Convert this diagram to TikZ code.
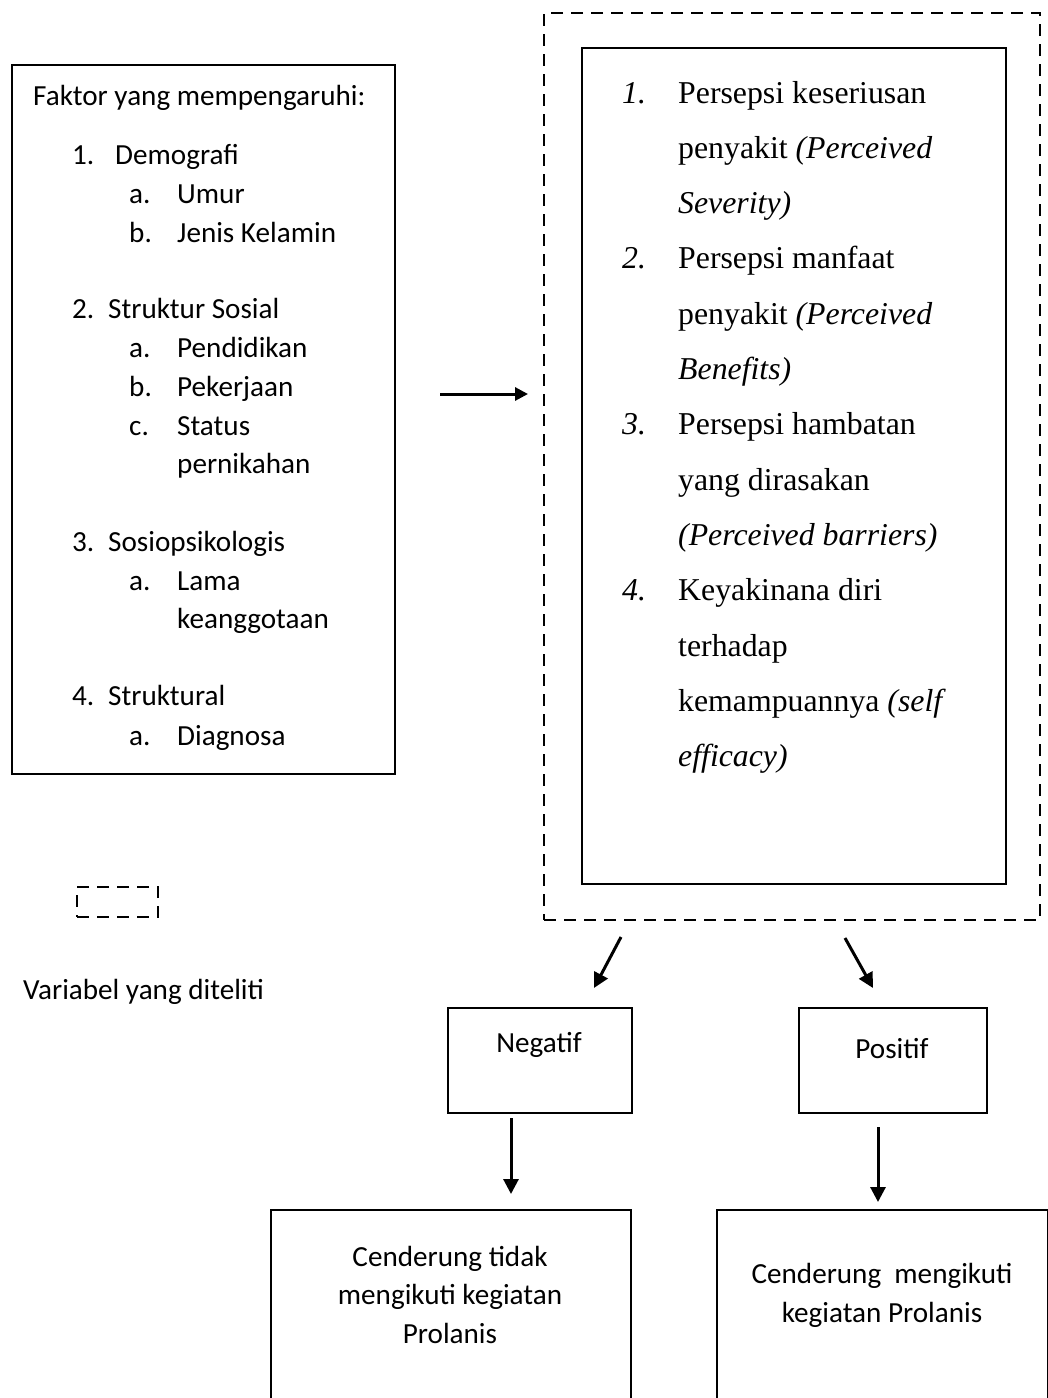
\documentclass[tikz,border=0pt]{standalone}
\usepackage{fontspec}
\setmainfont{Carlito}
\newfontfamily\tnr{Liberation Serif}
\usetikzlibrary{arrows.meta}
\tikzset{
  box/.style={draw, line width=2.2pt, rectangle, inner sep=0pt, anchor=north west},
  dbox/.style={box, line width=2pt, dash pattern=on 12pt off 8pt},
  arr/.style={line width=3pt, -{Triangle[length=15pt,width=15pt]}},
  harr/.style={line width=3pt, -{Triangle[length=13pt,width=13pt]}},
  ctxt/.style={font=\fontsize{29.15}{38.8}\selectfont, inner sep=0pt, anchor=base west},
  ctr/.style={ctxt, anchor=base},
  ttxt/.style={font=\tnr\fontsize{31.8}{55.3}\selectfont, inner sep=0pt, anchor=base west},
}
\begin{document}
\begin{tikzpicture}[x=1pt,y=-1pt]
\useasboundingbox (0,0) rectangle (1048,1398);

% ---------- left box ----------
\node[box, minimum width=383pt, minimum height=709pt] (lbox) at (11,64) {};
\node[ctxt] (lt0) at (33,105) {Faktor yang mempengaruhi:};
\node[ctxt] (ln1) at (72,164) {1.};
\node[ctxt] (lt1) at (115,164) {Demografi};
\node[ctxt] (la1) at (129,203) {a.};
\node[ctxt] (ls1) at (177,203) {Umur};
\node[ctxt] (lb1) at (129,242) {b.};
\node[ctxt] (ls2) at (177,242) {Jenis Kelamin};
\node[ctxt] (ln2) at (72,318) {2.};
\node[ctxt] (lt2) at (108,318) {Struktur Sosial};
\node[ctxt] (la2) at (129,357) {a.};
\node[ctxt] (ls3) at (177,357) {Pendidikan};
\node[ctxt] (lb2) at (129,396) {b.};
\node[ctxt] (ls4) at (177,396) {Pekerjaan};
\node[ctxt] (lc2) at (129,435) {c.};
\node[ctxt] (ls5) at (177,435) {Status};
\node[ctxt] (ls6) at (177,473) {pernikahan};
\node[ctxt] (ln3) at (72,551) {3.};
\node[ctxt] (lt3) at (108,551) {Sosiopsikologis};
\node[ctxt] (la3) at (129,590) {a.};
\node[ctxt] (ls7) at (177,590) {Lama};
\node[ctxt] (ls8) at (177,628) {keanggotaan};
\node[ctxt] (ln4) at (72,705) {4.};
\node[ctxt] (lt4) at (108,705) {Struktural};
\node[ctxt] (la4) at (129,745) {a.};
\node[ctxt] (ls9) at (177,745) {Diagnosa};

% ---------- legend ----------
\node[dbox, minimum width=81pt, minimum height=30pt] (leg) at (76,886) {};
\node[ctxt] (legt) at (23,999) {Variabel yang diteliti};

% ---------- dashed variable box ----------
\node[dbox, minimum width=496pt, minimum height=907pt] (vbox) at (543,12) {};
\node[box, minimum width=424pt, minimum height=836pt] (ibox) at (581,47) {};
\node[ttxt] (rn1) at (622,103) {\itshape 1.};
\node[ttxt] (r1) at (678,103) {Persepsi keseriusan};
\node[ttxt] (r2) at (678,158.3) {penyakit \textit{(Perceived}};
\node[ttxt] (r3) at (678,213.6) {\textit{Severity)}};
\node[ttxt] (rn2) at (622,268.9) {\itshape 2.};
\node[ttxt] (r4) at (678,268.9) {Persepsi manfaat};
\node[ttxt] (r5) at (678,324.2) {penyakit \textit{(Perceived}};
\node[ttxt] (r6) at (678,379.5) {\textit{Benefits)}};
\node[ttxt] (rn3) at (622,434.8) {\itshape 3.};
\node[ttxt] (r7) at (678,434.8) {Persepsi hambatan};
\node[ttxt] (r8) at (678,490.1) {yang dirasakan};
\node[ttxt] (r9) at (678,545.4) {\textit{(Perceived barriers)}};
\node[ttxt] (rn4) at (622,600.7) {\itshape 4.};
\node[ttxt] (r10) at (678,600.7) {Keyakinana diri};
\node[ttxt] (r11) at (678,656) {terhadap};
\node[ttxt] (r12) at (678,711.3) {kemampuannya \textit{(self}};
\node[ttxt] (r13) at (678,766.6) {\textit{efficacy)}};

% ---------- outcome boxes ----------
\node[box, minimum width=184pt, minimum height=105pt] (neg) at (447,1007) {};
\node[ctr] (negt) at (539,1052) {Negatif};
\node[box, minimum width=188pt, minimum height=105pt] (pos) at (798,1007) {};
\node[ctr] (post) at (892,1058) {Positif};

\node[box, minimum width=360pt, minimum height=230pt] (nres) at (270,1209) {};
\node[ctr] (nr1) at (450,1266) {Cenderung tidak};
\node[ctr] (nr2) at (450,1304) {mengikuti kegiatan};
\node[ctr] (nr3) at (450,1343) {Prolanis};

\node[box, minimum width=331pt, minimum height=230pt] (pres) at (716,1209) {};
\node[ctr] (pr1) at (882,1283) {Cenderung\ \ mengikuti};
\node[ctr] (pr2) at (882,1322) {kegiatan Prolanis};

% ---------- connectors ----------
\coordinate (a1s) at (440,394);  \coordinate (a1e) at (528,394);
\coordinate (a2s) at (621,937);  \coordinate (a2e) at (594,988);
\coordinate (a3s) at (845,938);  \coordinate (a3e) at (873,988);
\coordinate (a4s) at (511,1118); \coordinate (a4e) at (511,1194);
\coordinate (a5s) at (878,1127); \coordinate (a5e) at (878,1202);
\draw[harr] (a1s) -- (a1e);
\draw[arr] (a2s) -- (a2e);
\draw[arr] (a3s) -- (a3e);
\draw[arr] (a4s) -- (a4e);
\draw[arr] (a5s) -- (a5e);
\end{tikzpicture}
\end{document}
